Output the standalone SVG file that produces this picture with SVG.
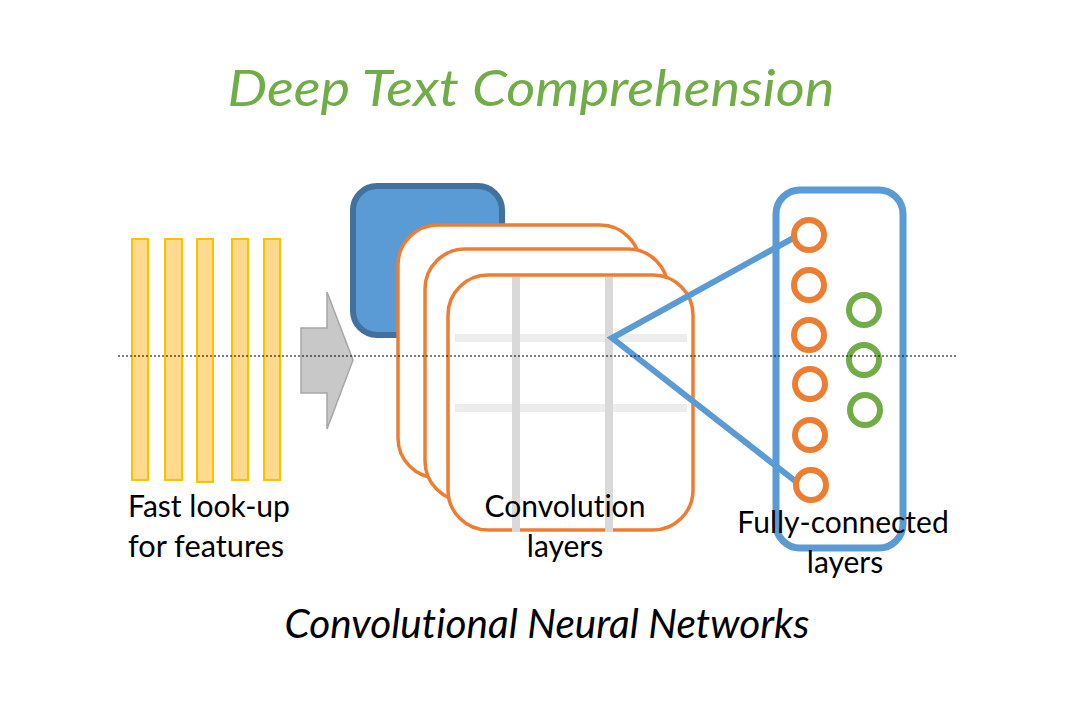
<svg xmlns="http://www.w3.org/2000/svg" width="1080" height="720" viewBox="0 0 1080 720">
<style>
.bar{fill:#FFD98E;stroke:#FFC000;stroke-width:2}
.conv{fill:#ffffff;stroke:#ED7D31;stroke-width:3.5}
.vgrid{stroke:#D9D9D9;stroke-width:8}
.hgrid{stroke:#EDEDED;stroke-width:8}
.link{stroke:#5B9BD5;stroke-width:6;fill:none}
.oc{fill:#ffffff;stroke:#ED7D31;stroke-width:6}
.gc{fill:#ffffff;stroke:#70AD47;stroke-width:6}
text{font-variant-ligatures:none}
.lbl{font-family:Lato,"Open Sans","Liberation Sans",sans-serif;font-size:30px;fill:#000000}
.title{font-family:Lato,"Open Sans","Liberation Sans",sans-serif;font-style:italic;font-size:50px;fill:#70AD47}
.sub{font-family:Lato,"Open Sans","Liberation Sans",sans-serif;font-style:italic;font-size:40px;fill:#000000}
</style>
<rect width="1080" height="720" fill="#ffffff"/>
<g id="title"><text class="title" x="531" y="106" text-anchor="middle" textLength="607" lengthAdjust="spacingAndGlyphs">Deep Text Comprehension</text></g>
<g id="lookup">
<rect class="bar" x="132" y="239" width="16" height="241"/>
<rect class="bar" x="165" y="239" width="17" height="241"/>
<rect class="bar" x="197" y="239" width="16" height="243"/>
<rect class="bar" x="232" y="239" width="16" height="241"/>
<rect class="bar" x="264" y="239" width="16" height="241"/>
<text class="lbl" x="128" y="517" textLength="162" lengthAdjust="spacingAndGlyphs">Fast look-up</text>
<text class="lbl" x="128" y="557" textLength="156" lengthAdjust="spacingAndGlyphs">for features</text>
</g>
<g id="connectors">
<polygon points="301,328 327,328 327,292 353,360 327,429 327,393 301,393" fill="#C8C8C8" stroke="#A6A6A6" stroke-width="1.5"/>
</g>
<g id="conv">
<rect x="353" y="186" width="149" height="149" rx="24" fill="#5B9BD5" stroke="#41719C" stroke-width="6"/>
<rect class="conv" x="398" y="225" width="242" height="253" rx="40"/>
<rect class="conv" x="425" y="249" width="243" height="252" rx="40"/>
<rect class="conv" x="448" y="275" width="245" height="255" rx="40"/>
<line class="hgrid" x1="455" y1="338" x2="687" y2="338"/>
<line class="hgrid" x1="455" y1="408" x2="687" y2="408"/>
<line class="vgrid" x1="516" y1="277" x2="516" y2="532"/>
<line class="vgrid" x1="609" y1="277" x2="609" y2="532"/>
<text class="lbl" x="565" y="517" text-anchor="middle">Convolution</text>
<text class="lbl" x="565" y="557" text-anchor="middle">layers</text>
</g>
<g id="links">
<polyline class="link" points="797,236 612,338 799,484"/>
</g>
<g id="fc">
<rect x="776" y="190" width="127" height="358" rx="24" fill="none" stroke="#5B9BD5" stroke-width="7"/>
<circle class="oc" cx="809" cy="235" r="15"/>
<circle class="oc" cx="809" cy="285" r="15"/>
<circle class="oc" cx="809" cy="335" r="15"/>
<circle class="oc" cx="810" cy="384" r="15"/>
<circle class="oc" cx="810" cy="435" r="15"/>
<circle class="oc" cx="811" cy="485" r="15"/>
<circle class="gc" cx="864" cy="310" r="15"/>
<circle class="gc" cx="864" cy="360" r="15"/>
<circle class="gc" cx="865" cy="410" r="15"/>
<text class="lbl" x="843" y="533" text-anchor="middle">Fully-connected</text>
<text class="lbl" x="845" y="573" text-anchor="middle">layers</text>
</g>
<g id="caption"><text class="sub" x="547" y="638" text-anchor="middle" textLength="525" lengthAdjust="spacingAndGlyphs">Convolutional Neural Networks</text></g>
<line x1="118" y1="356" x2="958" y2="356" stroke="#000000" stroke-width="1.2" stroke-dasharray="2,2"/>
</svg>
